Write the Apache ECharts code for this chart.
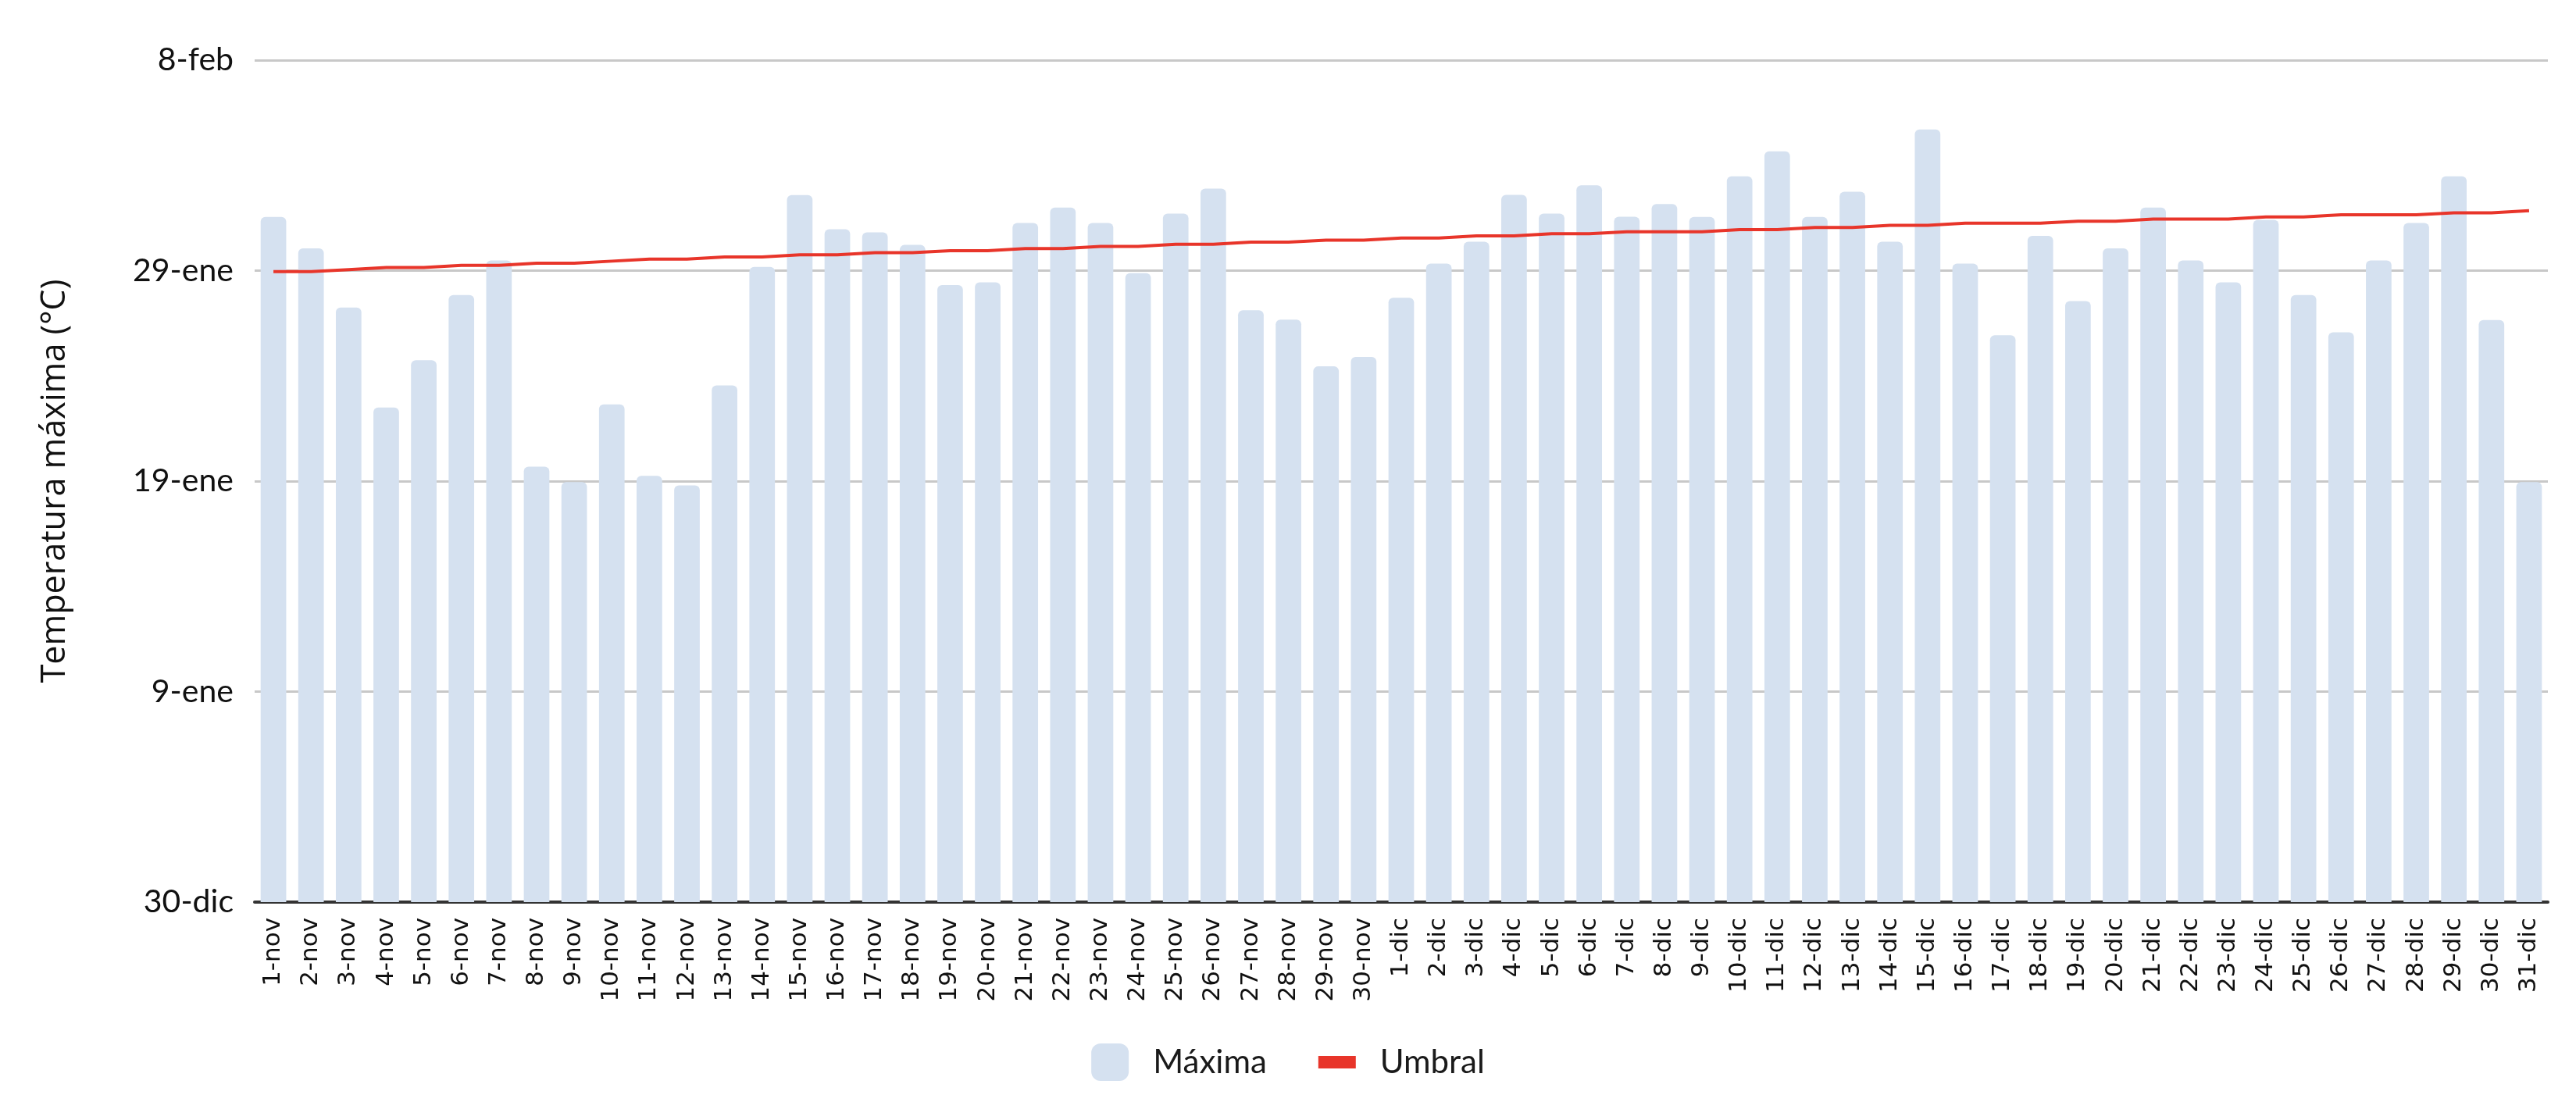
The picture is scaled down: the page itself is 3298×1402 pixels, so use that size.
<!DOCTYPE html>
<html>
<head>
<meta charset="utf-8">
<script src="https://cdn.jsdelivr.net/npm/echarts@6/dist/echarts.min.js"></script>
<style>
html,body{margin:0;padding:0;background:#fff;}
#c{width:3298px;height:1402px;}
</style>
</head>
<body>
<div id="c"></div>
<script>
const categories = [
  '1-nov','2-nov','3-nov','4-nov','5-nov','6-nov','7-nov','8-nov','9-nov','10-nov',
  '11-nov','12-nov','13-nov','14-nov','15-nov','16-nov','17-nov','18-nov','19-nov','20-nov',
  '21-nov','22-nov','23-nov','24-nov','25-nov','26-nov','27-nov','28-nov','29-nov','30-nov',
  '1-dic','2-dic','3-dic','4-dic','5-dic','6-dic','7-dic','8-dic','9-dic','10-dic',
  '11-dic','12-dic','13-dic','14-dic','15-dic','16-dic','17-dic','18-dic','19-dic','20-dic',
  '21-dic','22-dic','23-dic','24-dic','25-dic','26-dic','27-dic','28-dic','29-dic','30-dic','31-dic'
];
const maxima = [
  32.55, 31.06, 28.25, 23.5, 25.74, 28.84, 30.48, 20.69, 19.95, 23.65,
  20.25, 19.8, 24.55, 30.18, 33.59, 31.97, 31.82, 31.22, 29.31, 29.44,
  32.26, 33.0, 32.26, 29.88, 32.71, 33.9, 28.12, 27.67, 25.45, 25.9,
  28.71, 30.33, 31.37, 33.6, 32.71, 34.05, 32.56, 33.16, 32.55, 34.48,
  35.67, 32.55, 33.75, 31.37, 36.71, 30.33, 26.93, 31.65, 28.55, 31.06,
  33.0, 30.48, 29.44, 32.41, 28.84, 27.07, 30.48, 32.26, 34.48, 27.65, 19.95
];
const umbral = [
  29.95, 29.95, 30.05, 30.15, 30.15, 30.25, 30.25, 30.35, 30.35, 30.45,
  30.55, 30.55, 30.65, 30.65, 30.75, 30.75, 30.85, 30.85, 30.95, 30.95,
  31.05, 31.05, 31.15, 31.15, 31.25, 31.25, 31.35, 31.35, 31.45, 31.45,
  31.55, 31.55, 31.65, 31.65, 31.75, 31.75, 31.85, 31.85, 31.85, 31.95,
  31.95, 32.05, 32.05, 32.15, 32.15, 32.25, 32.25, 32.25, 32.35, 32.35,
  32.45, 32.45, 32.45, 32.55, 32.55, 32.65, 32.65, 32.65, 32.75, 32.75, 32.85
];
const yTickValues = [0, 10, 20, 30, 40];
const yTickLabels = ['30-dic', '9-ene', '19-ene', '29-ene', '8-feb'];
const seriesNames = ['Máxima', 'Umbral'];
const yAxisTitle = 'Temperatura máxima (°C)';

const chart = echarts.init(document.getElementById('c'), null, {renderer: 'canvas'});
chart.setOption({
  backgroundColor: '#ffffff',
  animation: false,
  grid: {left: 326, right: 36, top: 77, bottom: 247, containLabel: false},
  legend: {
    bottom: 13,
    left: 'center',
    itemGap: 66,
    itemWidth: 48,
    itemHeight: 48,
    textStyle: {fontFamily: 'Lato', fontSize: 42, color: '#1a1a1a', padding: [0, 0, 0, 26]},
    data: [
      {name: seriesNames[0], icon: 'roundRect'},
      {name: seriesNames[1], icon: 'path://M0,0 H48 V16 H0 Z'}
    ]
  },
  xAxis: {
    type: 'category',
    data: categories,
    axisLine: {show: true, lineStyle: {color: '#333333', width: 4}},
    axisTick: {show: false},
    axisLabel: {
      rotate: 90,
      interval: 0,
      margin: 20,
      fontFamily: 'DejaVu Sans',
      fontSize: 31,
      color: '#111'
    }
  },
  yAxis: {
    type: 'value',
    min: 0,
    max: 40,
    interval: 10,
    name: yAxisTitle,
    nameLocation: 'middle',
    nameGap: 234,
    nameRotate: 90,
    nameTextStyle: {fontFamily: 'Open Sans', fontSize: 43, color: '#111'},
    axisLine: {show: false},
    axisTick: {show: false},
    splitLine: {lineStyle: {color: '#c8c8c8', width: 3}},
    axisLabel: {
      margin: 27,
      fontFamily: 'Lato',
      fontSize: 41,
      color: '#111',
      formatter: function (v) {
        const i = yTickValues.indexOf(v);
        return i >= 0 ? yTickLabels[i] : '';
      }
    }
  },
  series: [
    {
      name: seriesNames[0],
      type: 'bar',
      data: maxima,
      barCategoryGap: '32%',
      itemStyle: {color: '#d5e1f0', borderRadius: [6, 6, 0, 0]},
      z: 3
    },
    {
      name: seriesNames[1],
      type: 'line',
      data: umbral,
      showSymbol: false,
      symbol: 'none',
      lineStyle: {color: '#e8352a', width: 4},
      itemStyle: {color: '#e8352a'},
      z: 4
    }
  ]
});
</script>
</body>
</html>
